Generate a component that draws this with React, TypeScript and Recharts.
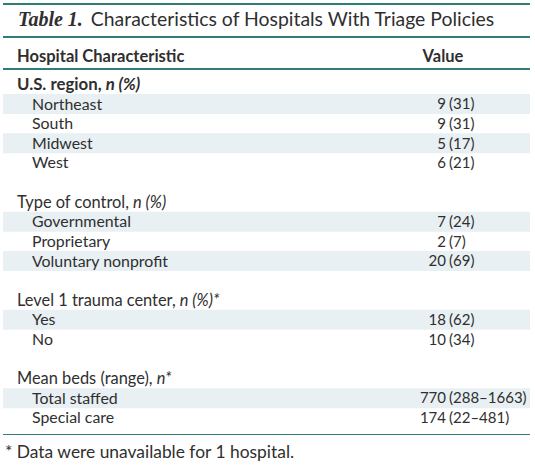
import React from "react";

import { Bar, BarChart, XAxis, YAxis } from "recharts";

const groupTitles = ["U.S. region", "Type of control", "Level 1 trauma center", "Mean beds (range)"];
const groupUnits = ["n (%)", "n (%)", "n (%)*", "n*"];

const regionNames = ["Northeast", "South", "Midwest", "West"];
const regionCounts = [9, 9, 5, 6];
const regionPercents = [31, 31, 17, 21];

const controlNames = ["Governmental", "Proprietary", "Voluntary nonprofit"];
const controlCounts = [7, 2, 20];
const controlPercents = [24, 7, 69];

const traumaNames = ["Yes", "No"];
const traumaCounts = [18, 10];
const traumaPercents = [62, 34];

const bedNames = ["Total staffed", "Special care"];
const bedMeans = [770, 174];
const bedMins = [288, 22];
const bedMaxes = [1663, 481];

const TEAL = "#2f7d79";
const BAND = "#e8f0f3";
const INK = "#2f2f2f";
const FONT = "Lato, 'Open Sans', sans-serif";

type Row = {
  key: string;
  kind: "group" | "item" | "gap";
  label: string;
  unit?: string;
  num?: string;
  rest?: string;
  shade: number;
};

// one group = header row + item rows, groups separated by an empty row
const groupItems = [
  regionNames.map((n, i) => ({ label: n, num: `${regionCounts[i]}`, rest: `(${regionPercents[i]})` })),
  controlNames.map((n, i) => ({ label: n, num: `${controlCounts[i]}`, rest: `(${controlPercents[i]})` })),
  traumaNames.map((n, i) => ({ label: n, num: `${traumaCounts[i]}`, rest: `(${traumaPercents[i]})` })),
  bedNames.map((n, i) => ({ label: n, num: `${bedMeans[i]}`, rest: `(${bedMins[i]}\u2013${bedMaxes[i]})` })),
];

const rows: Row[] = [];
groupTitles.forEach((title, g) => {
  if (g > 0) rows.push({ key: `gap-${g}`, kind: "gap", label: "", shade: 0 });
  rows.push({ key: `group-${g}`, kind: "group", label: title, unit: groupUnits[g], shade: 0 });
  groupItems[g].forEach((item, i) => {
    rows.push({ key: `item-${g}-${i}`, kind: "item", ...item, shade: i % 2 === 0 ? 1 : 0 });
  });
});

const rowByKey: Record<string, Row> = {};
rows.forEach((r) => (rowByKey[r.key] = r));

function RowTick(props: any) {
  const { y, payload } = props;
  const row = rowByKey[payload?.value];
  if (!row || row.kind === "gap") return <g />;
  const common = { y, dy: "0.36em", fontFamily: FONT, fill: INK };

  if (row.kind === "group") {
    const bold = row.key === "group-0";
    return (
      <text {...common} x={17} fontSize={bold ? 16.8 : 16.4} fontWeight={bold ? 700 : 400}>
        {row.label}, <tspan fontStyle="italic">{row.unit}</tspan>
      </text>
    );
  }

  return (
    <g>
      <text {...common} x={32} fontSize={15.9}>
        {row.label}
      </text>
      <text {...common} x={446} fontSize={15} textAnchor="end">
        {row.num}
      </text>
      <text {...common} x={449} fontSize={15}>
        {row.rest}
      </text>
    </g>
  );
}

const rule = (top: number) => (
  <div
    style={{
      position: "absolute",
      left: 3,
      width: 527,
      top,
      height: 1.5,
      background: TEAL,
    }}
  />
);

export default function App() {
  return (
    <div
      style={{
        position: "absolute",
        left: 0,
        top: 0,
        width: 535,
        height: 467,
        background: "#fff",
        fontFamily: FONT,
        color: INK,
        overflow: "hidden",
      }}
    >
      <BarChart
        width={535}
        height={467}
        data={rows}
        layout="vertical"
        margin={{ top: 74.5, right: 5, bottom: 39.5, left: 2 }}
        barCategoryGap={0}
        barGap={0}
      >
        <Bar dataKey="shade" fill={BAND} isAnimationActive={false} />
        <XAxis type="number" domain={[0, 1]} hide />
        <YAxis
          type="category"
          dataKey="key"
          width={1}
          axisLine={false}
          tickLine={false}
          interval={0}
          tick={<RowTick />}
        />
      </BarChart>

      {rule(3)}
      {rule(36)}
      {rule(68)}
      {rule(433.5)}

      <div
        style={{
          position: "absolute",
          left: 18,
          top: 5,
          whiteSpace: "nowrap",
          lineHeight: "28px",
        }}
      >
        <span
          style={{
            fontFamily: "'Liberation Serif', serif",
            fontStyle: "italic",
            fontWeight: 700,
            fontSize: 20,
          }}
        >
          Table 1.
        </span>
        <span style={{ fontSize: 19.4, marginLeft: 8 }}>
          Characteristics of Hospitals With Triage Policies
        </span>
      </div>

      <div
        style={{
          position: "absolute",
          left: 17,
          top: 43.5,
          fontWeight: 700,
          fontSize: 16.5,
          lineHeight: "24px",
          whiteSpace: "nowrap",
        }}
      >
        Hospital Characteristic
      </div>
      <div
        style={{
          position: "absolute",
          left: 403,
          width: 80,
          top: 43.5,
          textAlign: "center",
          fontWeight: 700,
          fontSize: 16.5,
          lineHeight: "24px",
        }}
      >
        Value
      </div>

      <div
        style={{
          position: "absolute",
          left: 5,
          top: 440,
          fontSize: 17.4,
          lineHeight: "24px",
          whiteSpace: "nowrap",
        }}
      >
        * Data were unavailable for 1 hospital.
      </div>
    </div>
  );
}
